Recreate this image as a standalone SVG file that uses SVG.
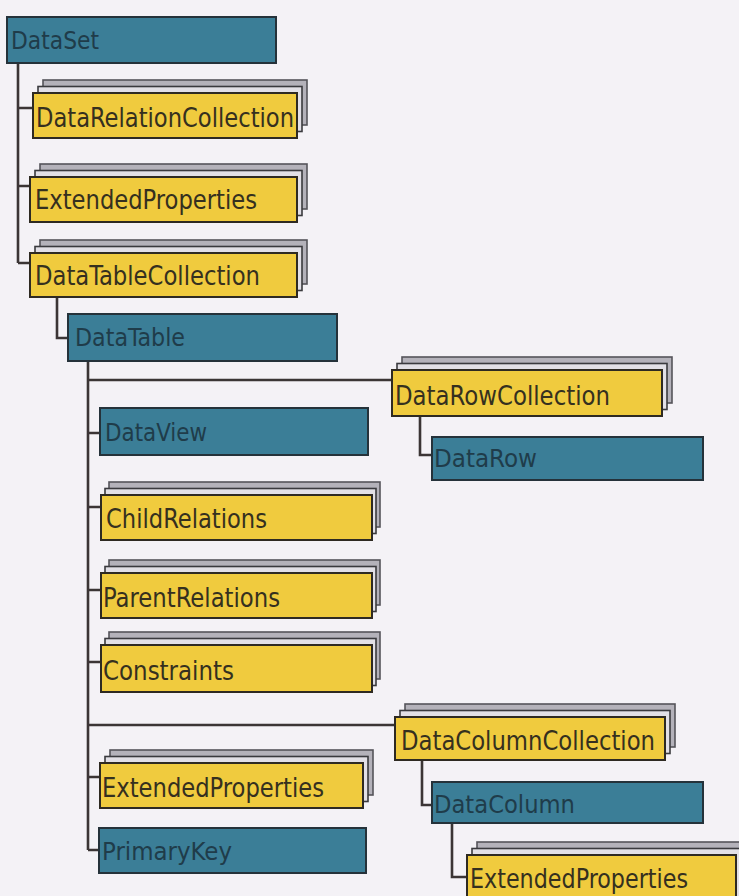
<svg xmlns="http://www.w3.org/2000/svg" width="739" height="896" viewBox="0 0 739 896">
<defs>
<style>
.bg{fill:#f4f2f6}
.blue{fill:#3b7e97;stroke:#25323a;stroke-width:2}
.yel{fill:#f0cb3e;stroke:#2e2a22;stroke-width:2}
.l1{fill:#e2e0e6;stroke:#3a3a3e;stroke-width:1.6}
.l2{fill:#b4b2ba;stroke:#55545a;stroke-width:1.6}
.ty{font-family:"DejaVu Sans Condensed","DejaVu Sans",sans-serif;font-size:26px;fill:#35301f}
.tb{font-family:"DejaVu Sans Condensed","DejaVu Sans",sans-serif;font-size:24px;fill:#1f3c4a}
.con{fill:none;stroke:#3b3535;stroke-width:2.6}
</style>
</defs>
<rect class="bg" x="0" y="0" width="739" height="896"/>

<g id="connectors">
<path class="con" d="M18,63 V263 M18,108 H33 M18,186 H30 M18,263 H30"/>
<path class="con" d="M57,297 V338 H68"/>
<path class="con" d="M88,361 V850 M88,380 H392 M88,433 H100 M88,507 H101 M88,590 H101 M88,662 H101 M88,725 H395 M88,777 H100 M88,850 H99"/>
<path class="con" d="M420,416 V455 H432"/>
<path class="con" d="M422,760 V805 H432"/>
<path class="con" d="M452,823 V877 H467"/>
</g>

<g id="DataSet">
<rect class="blue" x="7" y="17" width="269" height="46"/>
<text class="tb" x="11" y="49" textLength="88" lengthAdjust="spacingAndGlyphs">DataSet</text>
</g>

<g id="DataRelationCollection">
<rect class="l2" x="43" y="80" width="264" height="45"/>
<rect class="l1" x="38" y="86.5" width="264" height="45"/>
<rect class="yel" x="33" y="93" width="264" height="45"/>
<text class="ty" x="36" y="127" textLength="258" lengthAdjust="spacingAndGlyphs">DataRelationCollection</text>
</g>

<g id="ExtendedProperties1">
<rect class="l2" x="40" y="164" width="267" height="45"/>
<rect class="l1" x="35" y="170.5" width="267" height="45"/>
<rect class="yel" x="30" y="177" width="267" height="45"/>
<text class="ty" x="35" y="209" textLength="222" lengthAdjust="spacingAndGlyphs">ExtendedProperties</text>
</g>

<g id="DataTableCollection">
<rect class="l2" x="40" y="240" width="267" height="44"/>
<rect class="l1" x="35" y="246.5" width="267" height="44"/>
<rect class="yel" x="30" y="253" width="267" height="44"/>
<text class="ty" x="35" y="285" textLength="225" lengthAdjust="spacingAndGlyphs">DataTableCollection</text>
</g>

<g id="DataTable">
<rect class="blue" x="68" y="314" width="269" height="47"/>
<text class="tb" x="75" y="346" textLength="110" lengthAdjust="spacingAndGlyphs">DataTable</text>
</g>

<g id="DataRowCollection">
<rect class="l2" x="402" y="357" width="270" height="46"/>
<rect class="l1" x="397" y="363.5" width="270" height="46"/>
<rect class="yel" x="392" y="370" width="270" height="46"/>
<text class="ty" x="395" y="405" textLength="215" lengthAdjust="spacingAndGlyphs">DataRowCollection</text>
</g>

<g id="DataRow">
<rect class="blue" x="432" y="437" width="271" height="43"/>
<text class="tb" x="434" y="467" textLength="103" lengthAdjust="spacingAndGlyphs">DataRow</text>
</g>

<g id="DataView">
<rect class="blue" x="100" y="408" width="268" height="47"/>
<text class="tb" x="105" y="441" textLength="102" lengthAdjust="spacingAndGlyphs">DataView</text>
</g>

<g id="ChildRelations">
<rect class="l2" x="109" y="482" width="271" height="45"/>
<rect class="l1" x="105" y="488.5" width="271" height="45"/>
<rect class="yel" x="101" y="495" width="271" height="45"/>
<text class="ty" x="106" y="528" textLength="161" lengthAdjust="spacingAndGlyphs">ChildRelations</text>
</g>

<g id="ParentRelations">
<rect class="l2" x="109" y="560" width="271" height="45"/>
<rect class="l1" x="105" y="566.5" width="271" height="45"/>
<rect class="yel" x="101" y="573" width="271" height="45"/>
<text class="ty" x="103" y="607" textLength="177" lengthAdjust="spacingAndGlyphs">ParentRelations</text>
</g>

<g id="Constraints">
<rect class="l2" x="109" y="632" width="271" height="47"/>
<rect class="l1" x="105" y="638.5" width="271" height="47"/>
<rect class="yel" x="101" y="645" width="271" height="47"/>
<text class="ty" x="103" y="680" textLength="131" lengthAdjust="spacingAndGlyphs">Constraints</text>
</g>

<g id="DataColumnCollection">
<rect class="l2" x="405" y="704" width="270" height="43"/>
<rect class="l1" x="400" y="710.5" width="270" height="43"/>
<rect class="yel" x="395" y="717" width="270" height="43"/>
<text class="ty" x="401" y="750" textLength="254" lengthAdjust="spacingAndGlyphs">DataColumnCollection</text>
</g>

<g id="ExtendedProperties2">
<rect class="l2" x="110" y="750" width="263" height="45"/>
<rect class="l1" x="105" y="756.5" width="263" height="45"/>
<rect class="yel" x="100" y="763" width="263" height="45"/>
<text class="ty" x="102" y="797" textLength="222" lengthAdjust="spacingAndGlyphs">ExtendedProperties</text>
</g>

<g id="DataColumn">
<rect class="blue" x="432" y="782" width="271" height="41"/>
<text class="tb" x="434" y="813" textLength="141" lengthAdjust="spacingAndGlyphs">DataColumn</text>
</g>

<g id="PrimaryKey">
<rect class="blue" x="99" y="828" width="267" height="45"/>
<text class="tb" x="102" y="860" textLength="130" lengthAdjust="spacingAndGlyphs">PrimaryKey</text>
</g>

<g id="ExtendedProperties3">
<rect class="l2" x="477" y="842" width="275" height="60"/>
<rect class="l1" x="472" y="848.5" width="275" height="60"/>
<rect class="yel" x="467" y="855" width="269" height="60"/>
<text class="ty" x="470" y="888" textLength="218" lengthAdjust="spacingAndGlyphs">ExtendedProperties</text>
</g>
</svg>
